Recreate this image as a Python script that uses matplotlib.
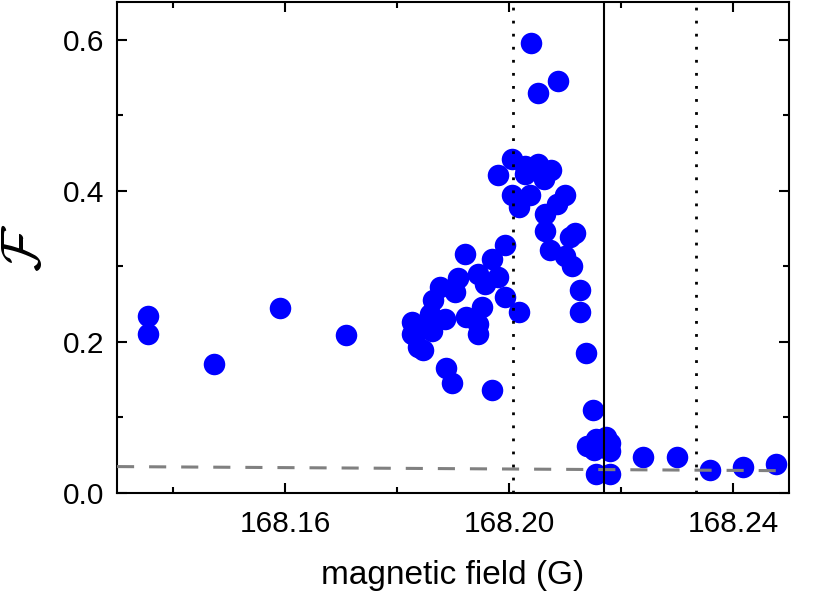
import matplotlib
matplotlib.use("Agg")
import matplotlib.pyplot as plt
from matplotlib.ticker import MultipleLocator, FormatStrFormatter

plt.rcParams['font.family'] = ['Liberation Sans', 'DejaVu Sans']
plt.rcParams['mathtext.fontset'] = 'cm'

# Data (magnetic field in G, F values)
field = [168.1356, 168.1356, 168.1474, 168.1591, 168.1709,
         168.1826, 168.1826, 168.1838, 168.1847, 168.1847,
         168.1859, 168.1862, 168.1865, 168.1876, 168.1886,
         168.1888, 168.1898, 168.1904, 168.1909, 168.1921,
         168.1924, 168.1945, 168.1945, 168.1945, 168.1951,
         168.1957, 168.1969, 168.1969, 168.1981, 168.1981,
         168.1993, 168.1993, 168.2005, 168.2005, 168.2017,
         168.2017, 168.2029, 168.2029, 168.2037, 168.2039,
         168.2052, 168.2052, 168.2063, 168.2064, 168.2064,
         168.2073, 168.2075, 168.2085, 168.2088, 168.2100,
         168.2100, 168.2109, 168.2112, 168.2118, 168.2126,
         168.2126, 168.2138, 168.2139, 168.2150, 168.2151,
         168.2155, 168.2155, 168.2173, 168.2180, 168.2180,
         168.2180, 168.2240, 168.2300, 168.2359, 168.2418,
         168.2477]
F_values = [0.234, 0.211, 0.171, 0.245, 0.209,
            0.226, 0.211, 0.193, 0.218, 0.189,
            0.237, 0.215, 0.255, 0.273, 0.231,
            0.165, 0.145, 0.266, 0.284, 0.317,
            0.233, 0.290, 0.224, 0.211, 0.246,
            0.277, 0.310, 0.137, 0.286, 0.421,
            0.328, 0.259, 0.442, 0.394, 0.378,
            0.240, 0.433, 0.422, 0.395, 0.596,
            0.436, 0.529, 0.416, 0.369, 0.347,
            0.322, 0.428, 0.383, 0.546, 0.394,
            0.314, 0.339, 0.301, 0.344, 0.269,
            0.239, 0.185, 0.062, 0.110, 0.057,
            0.071, 0.025, 0.074, 0.066, 0.055,
            0.025, 0.048, 0.048, 0.030, 0.035,
            0.038]

background_field = [168.13, 168.25]
background_F = [0.0350, 0.0295]

resonance_center = 168.2170
resonance_bounds = [168.2007, 168.2333]

fig = plt.figure(figsize=(8.16, 5.92), dpi=100)
ax = fig.add_axes([0.1434, 0.1672, 0.967 - 0.1434, 0.9966 - 0.1672])

ax.plot(field, F_values, 'o', color='#0000FF', markersize=15.5,
        markeredgewidth=0, zorder=2)
ax.plot(background_field, background_F, color='#808080', lw=2.2,
        dashes=(5.6, 4.9), zorder=3)
ax.axvline(resonance_center, color='black', lw=1.5, zorder=3)
for b in resonance_bounds:
    ax.axvline(b, color='black', lw=2.0, dashes=(1, 3.7), zorder=3)

ax.set_xlim(168.13, 168.25)
ax.set_ylim(0.0, 0.65)
ax.xaxis.set_major_locator(MultipleLocator(0.04))
ax.xaxis.set_minor_locator(MultipleLocator(0.02))
ax.yaxis.set_major_locator(MultipleLocator(0.2))
ax.yaxis.set_minor_locator(MultipleLocator(0.1))
ax.xaxis.set_major_formatter(FormatStrFormatter('%.2f'))
ax.yaxis.set_major_formatter(FormatStrFormatter('%.1f'))

for s in ax.spines.values():
    s.set_linewidth(1.5)
ax.tick_params(which='both', direction='in', top=True, right=True,
               width=1.5, labelsize=21.5)
ax.tick_params(axis='x', which='major', length=7, pad=12)
ax.tick_params(axis='y', which='major', length=7, pad=9)
ax.tick_params(which='minor', length=4)

ax.set_xlabel('magnetic field (G)', fontsize=24, labelpad=16)
ax.set_ylabel(r'$\mathcal{F}$', fontsize=40, labelpad=8)

fig.savefig('out.png', dpi=100)
